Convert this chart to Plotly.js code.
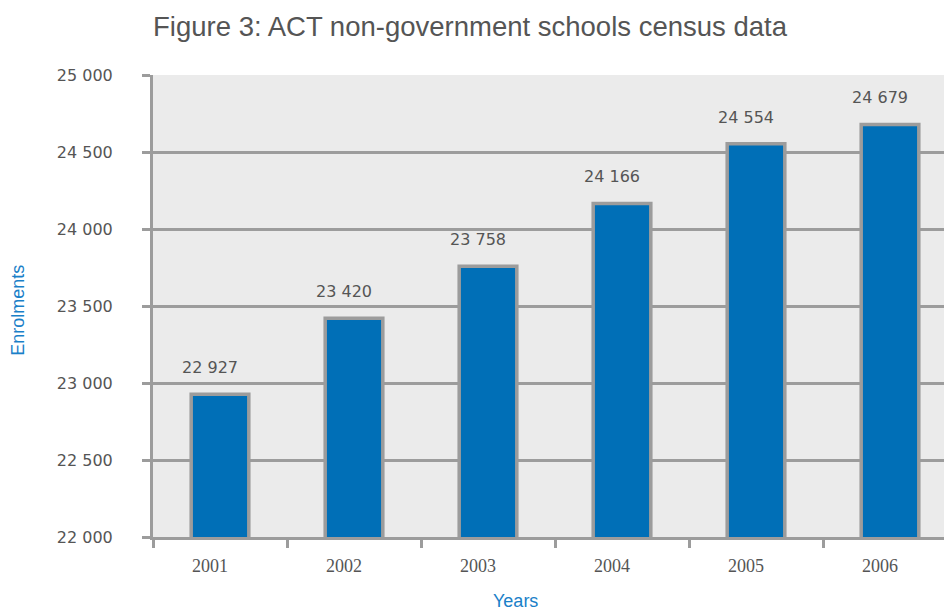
<!DOCTYPE html>
<html>
<head>
<meta charset="utf-8">
<script src="https://cdn.plot.ly/plotly-3.0.1.min.js"></script>
<style>html,body{margin:0;padding:0;background:#fff;overflow:hidden;}</style>
</head>
<body>
<div id="chart" style="width:944px;height:612px;"></div>
<script>
const years = ['2001', '2002', '2003', '2004', '2005', '2006'];
const enrolments = [22927, 23420, 23758, 24166, 24554, 24679];
const yTicks = [22000, 22500, 23000, 23500, 24000, 24500, 25000];

const GRAY = '#9c9c9c';
const TXT = '#555555';
const BLUE_T = '#1a80c8';

function fmt(v) { return String(v).replace(/\B(?=(\d{3})+(?!\d))/g, ' '); }

const trace = {
  type: 'bar',
  x: years,
  y: enrolments,
  marker: { color: '#006fb7', line: { color: GRAY, width: 3.5 } },
  hoverinfo: 'skip'
};

const annotations = years.map((yr, i) => ({
  x: i, y: enrolments[i], xref: 'x', yref: 'y',
  text: fmt(enrolments[i]), showarrow: false,
  yanchor: 'bottom', xanchor: 'center', yshift: 15, xshift: -10,
  font: { family: 'DejaVu Sans', size: 16, color: TXT }
}));
annotations.push({
  xref: 'paper', yref: 'paper', x: -0.170, y: 0.491, textangle: -90,
  text: 'Enrolments', showarrow: false, xanchor: 'center', yanchor: 'middle',
  font: { family: 'Liberation Sans', size: 18, color: BLUE_T }
});
annotations.push({
  xref: 'paper', yref: 'paper', x: 0.4577, y: -0.1385,
  text: 'Years', showarrow: false, xanchor: 'center', yanchor: 'middle',
  font: { family: 'Liberation Sans', size: 18, color: BLUE_T }
});

const layout = {
  width: 944, height: 612,
  margin: { l: 153, r: 0, t: 75, b: 75, pad: 0 },
  paper_bgcolor: '#ffffff',
  plot_bgcolor: '#ebebeb',
  separators: '. ',
  showlegend: false,
  bargap: 0.57,
  title: {
    text: 'Figure 3: ACT non-government schools census data',
    font: { family: 'Liberation Sans', size: 27.5, color: TXT },
    x: 470 / 944, xanchor: 'center', xref: 'container',
    y: 1 - 26 / 612, yanchor: 'middle', yref: 'container'
  },
  xaxis: {
    type: 'category',
    range: [-0.5, 5.403],
    showgrid: false, zeroline: false,
    showline: true, linecolor: GRAY, linewidth: 3,
    ticks: 'outside', tickson: 'boundaries', ticklen: 8, tickwidth: 3, tickcolor: GRAY,
    ticklabelshift: -10, ticklabelstandoff: 10,
    tickfont: { family: 'Liberation Serif', size: 18, color: TXT },
    fixedrange: true
  },
  yaxis: {
    range: [22000, 25000],
    tickvals: yTicks,
    ticktext: yTicks.map(fmt),
    showgrid: true, gridcolor: GRAY, gridwidth: 3,
    zeroline: false,
    showline: true, linecolor: GRAY, linewidth: 3,
    ticks: 'outside', ticklen: 8, tickwidth: 3, tickcolor: GRAY,
    ticklabelstandoff: 26,
    tickfont: { family: 'DejaVu Sans', size: 16, color: TXT },
    fixedrange: true
  },
  annotations: annotations
};

Plotly.newPlot('chart', [trace], layout, { displayModeBar: false, staticPlot: true });
</script>
</body>
</html>
